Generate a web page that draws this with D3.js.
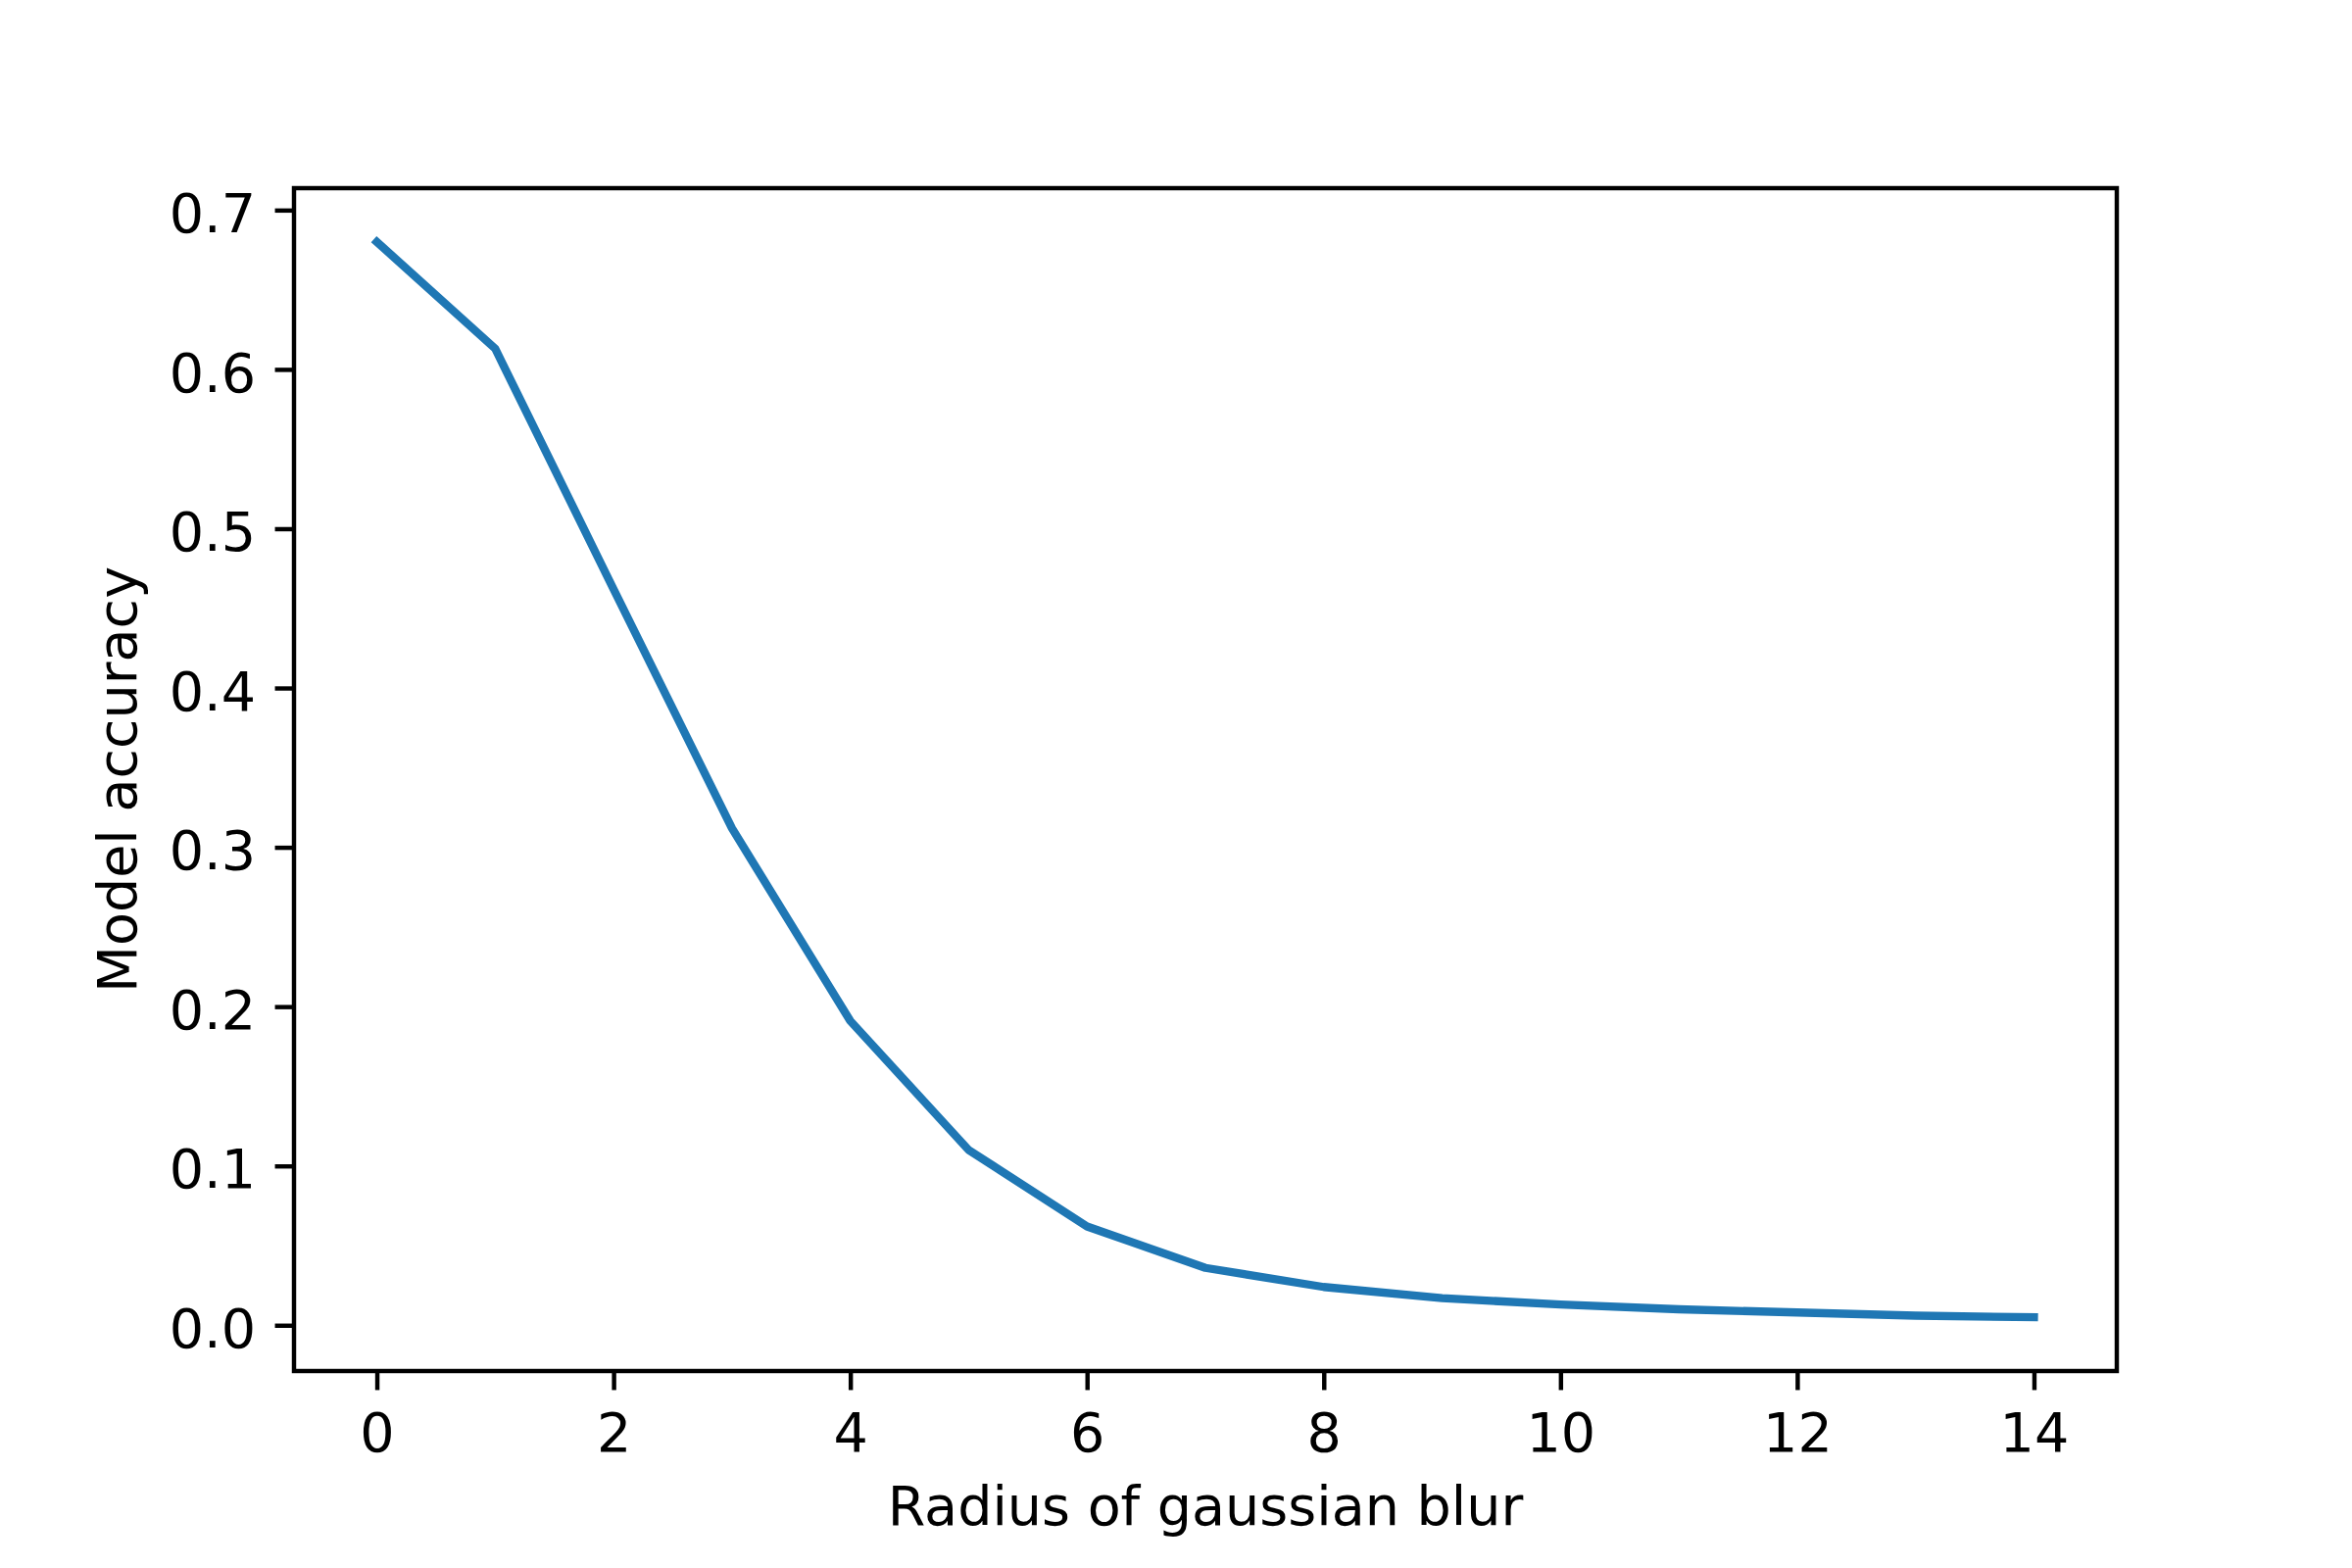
<!DOCTYPE html>
<html>
<head>
<meta charset="utf-8">
<script src="https://cdn.jsdelivr.net/npm/d3@7"></script>
<style>
  body { margin: 0; background: #ffffff; }
  text { font-family: "DejaVu Sans", sans-serif; }
</style>
</head>
<body>
<div id="chart"></div>
<script>
// blur radius vs accuracy
var radius = [0, 1, 2, 3, 4, 5, 6, 7, 8, 9, 10, 11, 12, 13, 14];
var accuracy = [0.680, 0.613, 0.462, 0.312, 0.191, 0.110, 0.062, 0.036, 0.024, 0.017, 0.013, 0.010, 0.008, 0.006, 0.005];
var xTicks = [0, 2, 4, 6, 8, 10, 12, 14];
var yTicks = [0.0, 0.1, 0.2, 0.3, 0.4, 0.5, 0.6, 0.7];

var width = 2400;
var height = 1600;
// axes box in pixels ("top" is taken by window.top, so use plot*)
var plotLeft = 300, plotRight = 2160, plotTop = 192, plotBottom = 1399;
var pt = 400 / 72;   // figure was 400 dpi
var fontSize = 10 * pt;

var svg = d3.select("#chart").append("svg")
    .attr("width", width)
    .attr("height", height);

svg.append("rect")
    .attr("width", width)
    .attr("height", height)
    .attr("fill", "#ffffff");

// matplotlib style 5% margins
var xr = d3.max(radius) - d3.min(radius);
var x = d3.scaleLinear()
    .domain([d3.min(radius) - 0.05 * xr, d3.max(radius) + 0.05 * xr])
    .range([plotLeft, plotRight]);

var yr = d3.max(accuracy) - d3.min(accuracy);
var y = d3.scaleLinear()
    .domain([d3.min(accuracy) - 0.05 * yr, d3.max(accuracy) + 0.05 * yr])
    .range([plotBottom, plotTop]);

var data = radius.map(function(r, i) {
    return {r: r, acc: accuracy[i]};
});

var line = d3.line()
    .x(function(d) { return x(d.r); })
    .y(function(d) { return y(d.acc); });

svg.append("path")
    .datum(data)
    .attr("d", line)
    .attr("fill", "none")
    .attr("stroke", "#1f77b4")
    .attr("stroke-width", 1.5 * pt)
    .attr("stroke-linejoin", "round")
    .attr("stroke-linecap", "square");

// axes
var xAxis = d3.axisBottom(x)
    .tickValues(xTicks)
    .tickFormat(d3.format("d"))
    .tickSize(3.5 * pt)
    .tickSizeOuter(0)
    .tickPadding(3.5 * pt);

var yAxis = d3.axisLeft(y)
    .tickValues(yTicks)
    .tickFormat(d3.format(".1f"))
    .tickSize(3.5 * pt)
    .tickSizeOuter(0)
    .tickPadding(3.5 * pt);

var gx = svg.append("g")
    .attr("transform", "translate(0," + plotBottom + ")")
    .call(xAxis);
var gy = svg.append("g")
    .attr("transform", "translate(" + plotLeft + ",0)")
    .call(yAxis);

[gx, gy].forEach(function(g) {
    g.select(".domain").remove();
    g.selectAll(".tick line")
        .attr("stroke", "#000000")
        .attr("stroke-width", 0.8 * pt);
    g.selectAll(".tick text")
        .attr("fill", "#000000")
        .style("font-size", fontSize + "px")
        .style("font-family", "DejaVu Sans");
});
gx.selectAll(".tick text").attr("dy", "0.78em");
gy.selectAll(".tick text").attr("dy", "0.4em");

// frame
svg.append("rect")
    .attr("x", plotLeft)
    .attr("y", plotTop)
    .attr("width", plotRight - plotLeft)
    .attr("height", plotBottom - plotTop)
    .attr("fill", "none")
    .attr("stroke", "#000000")
    .attr("stroke-width", 0.8 * pt)
    .attr("stroke-linecap", "square");

// axis labels
svg.append("text")
    .text("Radius of gaussian blur")
    .attr("x", (plotLeft + plotRight) / 2)
    .attr("y", 1556)
    .attr("text-anchor", "middle")
    .attr("font-size", fontSize + "px")
    .attr("fill", "#000000");

svg.append("text")
    .text("Model accuracy")
    .attr("transform", "translate(139," + ((plotTop + plotBottom) / 2) + ") rotate(-90)")
    .attr("text-anchor", "middle")
    .attr("font-size", fontSize + "px")
    .attr("fill", "#000000");
</script>
</body>
</html>
